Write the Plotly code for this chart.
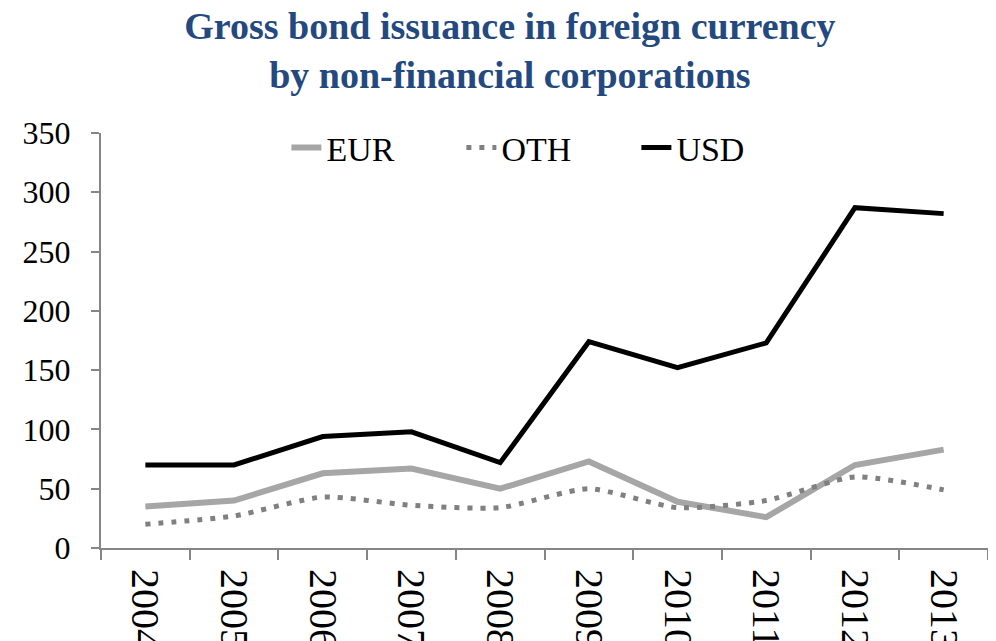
import plotly.graph_objects as go

years = ["2004", "2005", "2006", "2007", "2008", "2009", "2010", "2011", "2012", "2013"]
eur = [35, 40, 63, 67, 50, 73, 39, 26, 70, 83]
oth = [20, 27, 43, 36, 34, 50, 34, 40, 60, 49]
usd = [70, 70, 94, 98, 72, 174, 152, 173, 287, 282]
y_ticks = [0, 50, 100, 150, 200, 250, 300, 350]

serif = "Liberation Serif"

fig = go.Figure()
fig.add_trace(go.Scatter(x=years, y=eur, name="EUR", mode="lines",
                         line=dict(color="#A6A6A6", width=6)))
fig.add_trace(go.Scatter(x=years, y=oth, name="OTH", mode="lines",
                         line=dict(color="#808080", width=5, dash="5px,8px", shape="spline", smoothing=0.6)))
fig.add_trace(go.Scatter(x=years, y=usd, name="USD", mode="lines",
                         line=dict(color="#000000", width=5)))

fig.update_layout(
    width=988, height=633,
    paper_bgcolor="white", plot_bgcolor="white",
    margin=dict(l=93, r=8, t=125, b=93, pad=0, autoexpand=False),
    title=dict(text="Gross bond issuance in foreign currency<br>by non-financial corporations",
               x=0.508, xanchor="center", y=0.951, yanchor="top", yref="container",
               font=dict(family=serif, size=38, color="#24497E", weight="bold")),
    font=dict(family=serif, color="black"),
    showlegend=True,
    legend=dict(orientation="h", x=0.209, xanchor="left", y=0.964, yanchor="middle",
                font=dict(family=serif, size=34, color="black"),
                bgcolor="rgba(0,0,0,0)", entrywidth=130, entrywidthmode="pixels",
                tracegroupgap=0),
    xaxis=dict(type="category", range=[-0.5, 9.5], showline=True, linecolor="#868686", linewidth=2,
               ticks="outside", tickson="boundaries", ticklen=10, tickwidth=2, tickcolor="#868686",
               tickangle=90, tickfont=dict(family=serif, size=40, color="black"),
               ticklabelstandoff=11, automargin=False,
               showgrid=False, zeroline=False),
    yaxis=dict(range=[0, 350], tickvals=y_ticks, showline=True, linecolor="#868686", linewidth=2,
               ticks="outside", ticklen=8, tickwidth=2, tickcolor="#868686",
               tickfont=dict(family=serif, size=32, color="black"),
               ticklabelstandoff=14, automargin=False,
               showgrid=False, zeroline=False),
)

fig.write_html("out.html")
